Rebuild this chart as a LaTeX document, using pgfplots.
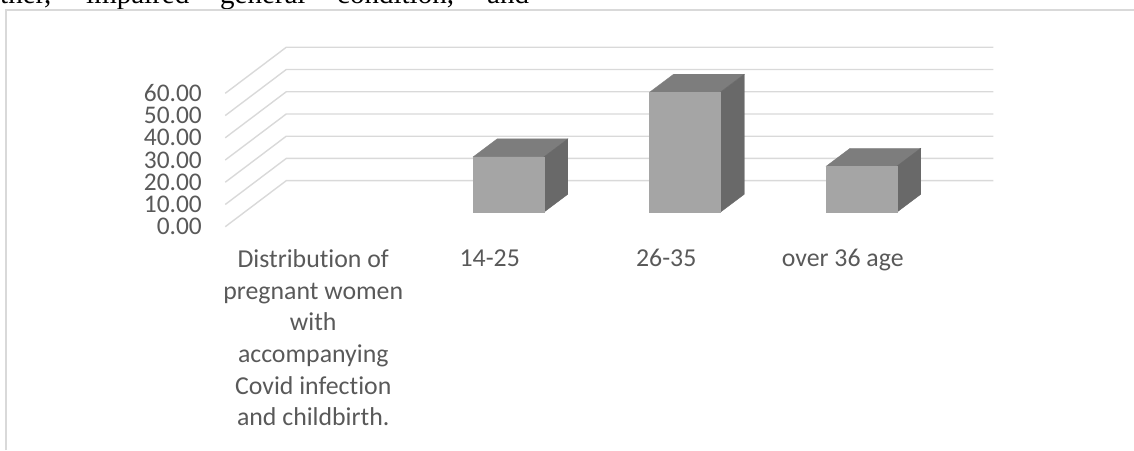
\documentclass[border=0pt]{standalone}
\usepackage{fontspec}
\setmainfont{Carlito}[Ligatures=CommonOff]
\newfontfamily\bodyserif{Liberation Serif}
\usepackage{pgfplots}
\pgfplotsset{compat=1.18}
\definecolor{gridgray}{HTML}{D9D9D9}
\definecolor{labelgray}{HTML}{595959}
\definecolor{barfront}{HTML}{A5A5A5}
\definecolor{bartop}{HTML}{7D7D7D}
\definecolor{barside}{HTML}{696969}

% Depth offsets of the 3-D projection, in axis units
\newcommand{\wallx}{0.3456}
\newcommand{\wally}{20.7}
\newcommand{\barox}{0.106}
\newcommand{\baroy}{6.48}
\newcommand{\bardx}{0.136}
\newcommand{\bardy}{8.1}
\newcommand{\barhw}{0.2}

% One gridline: across the side wall, then along the back wall
\newcommand{\wallline}[1]{%
  \pgfmathsetmacro{\yb}{#1+\wally}
  \addplot[gridgray, line width=1.4pt] coordinates {(-0.4986,#1) (-0.153,\yb) (3.853,\yb)};
}
% Top and side faces of a column at category #1 with value #2
\newcommand{\barfaces}[2]{%
  \pgfmathsetmacro{\xl}{#1+\barox-\barhw}
  \pgfmathsetmacro{\xr}{#1+\barox+\barhw}
  \pgfmathsetmacro{\xlb}{\xl+\bardx}
  \pgfmathsetmacro{\xrb}{\xr+\bardx}
  \pgfmathsetmacro{\yt}{#2+\baroy}
  \pgfmathsetmacro{\ytb}{\yt+\bardy}
  \pgfmathsetmacro{\ybb}{\baroy+\bardy}
  \addplot[fill=bartop, draw=bartop, line width=0.4pt] coordinates {(\xl,\yt) (\xlb,\ytb) (\xrb,\ytb) (\xr,\yt)} -- cycle;
  \addplot[fill=barside, draw=barside, line width=0.4pt] coordinates {(\xr,\baroy) (\xr,\yt) (\xrb,\ytb) (\xrb,\ybb)} -- cycle;
}

\begin{document}
\begin{tikzpicture}
\useasboundingbox (0,0) rectangle (1134pt,450pt);
\clip (0,0) rectangle (1134pt,450pt);

% Running text of the page above the figure
\foreach \px/\word in {0/ther{,},86/impaired,220/general,337/condition{,},487/and}
  \node[anchor=base west, inner sep=0pt, font=\bodyserif\fontsize{29}{33}\selectfont, text=black]
    at (\px pt,446pt) {\word};

% Figure frame
\draw[gridgray, line width=1.6pt] (6pt,0pt) -- (6pt,440pt) -- (1134pt,440pt);

\begin{axis}[
  at={(225pt,223.3pt)}, anchor=south west,
  scale only axis, width=706pt, height=133.4pt,
  xmin=-0.5, xmax=3.5, ymin=0, ymax=60,
  clip=false,
  axis line style={draw=none},
  major tick length=0pt,
  xtick={0,1,2,3},
  xticklabels={{Distribution of\\pregnant women\\with\\accompanying\\Covid infection\\and childbirth.},{14-25},{26-35},{over 36 age}},
  ytick={0,10,20,30,40,50,60},
  /pgf/number format/fixed,
  /pgf/number format/fixed zerofill,
  /pgf/number format/precision=2,
  /pgf/number format/assume math mode=true,
  yticklabel style={font=\fontsize{25.4}{25.4}\selectfont, text=labelgray, anchor=east, inner sep=0pt, xshift=-23pt},
  xticklabel style={font=\fontsize{25.8}{31.7}\selectfont, text=labelgray, align=center, anchor=north, inner sep=0pt, yshift=-22.5pt},
]
\wallline{0}
\wallline{10}
\wallline{20}
\wallline{30}
\wallline{40}
\wallline{50}
\wallline{60}

\barfaces{1}{24.9}
\barfaces{2}{54.0}
\barfaces{3}{20.7}
\addplot[ybar, bar width=70.6pt, bar shift=18.7pt, yshift=14.4pt, fill=barfront, draw=barfront, line width=0.4pt]
  coordinates {(1,24.9) (2,54.0) (3,20.7)};
\end{axis}
\end{tikzpicture}
\end{document}
